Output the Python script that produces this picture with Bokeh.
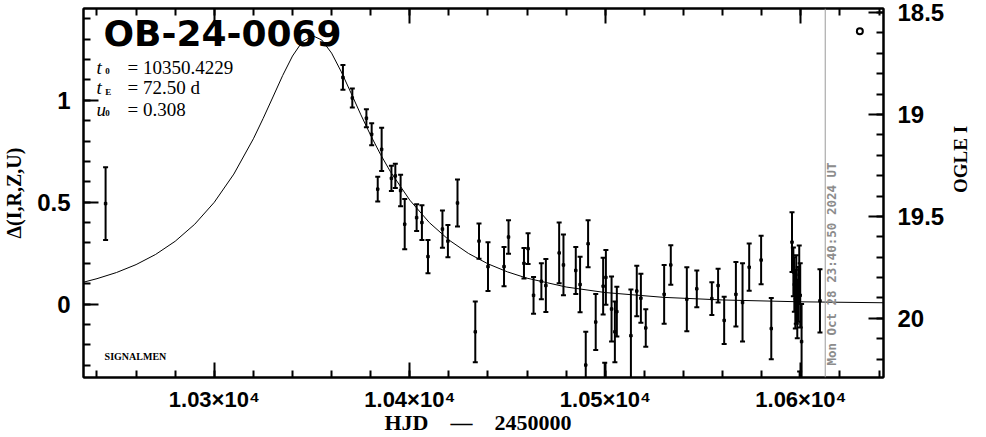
import math
from bokeh.plotting import figure
from bokeh.models import (Range1d, LinearAxis, SingleIntervalTicker, Span, Label,
                          ColumnDataSource, CustomJSTickFormatter)
from bokeh.embed import file_html
from bokeh.resources import INLINE

# ---- model (fit line) ----
model_hjd = [10233.1, 10240, 10250, 10260, 10270, 10280, 10290, 10300, 10310, 10320,
             10325, 10330, 10335, 10340, 10345, 10350.4, 10355, 10360, 10365, 10370,
             10375, 10380, 10385, 10390, 10400, 10410, 10420, 10430, 10440, 10450,
             10460, 10480, 10500, 10530, 10560, 10600, 10642.3]
model_delta = [0.1075, 0.1248, 0.155, 0.1938, 0.2437, 0.3083, 0.3918, 0.4995, 0.6378, 0.8111,
               0.9109, 1.0159, 1.1218, 1.2168, 1.2871, 1.3162, 1.2954, 1.2312, 1.1389, 1.0342,
               0.9283, 0.8275, 0.7347, 0.6510, 0.5100, 0.3998, 0.3146, 0.2486, 0.1975, 0.1579,
               0.1270, 0.0838, 0.0567, 0.0330, 0.0203, 0.0112, 0.0066]

# ---- photometry ----
hjd = [10244.4, 10365.8, 10370.6, 10377.8, 10380.5, 10385.6, 10383.6, 10390.6, 10392.6, 10395.3,
       10397.4, 10403.5, 10406.2, 10409.3, 10416.7, 10419.5, 10424.4, 10433.5, 10435.4, 10440.0,
       10448.2, 10450.5, 10458.4, 10460.5, 10463.3, 10467.3, 10469.6, 10476.4, 10478.6, 10484.9,
       10487.1, 10490.0, 10491.2, 10495.1, 10498.9, 10499.7, 10500.3, 10503.2, 10504.9, 10505.9,
       10513.1, 10516.1, 10518.2, 10520.7, 10530.1, 10533.5, 10541.7, 10546.8, 10554.5, 10557.7,
       10560.8, 10566.8, 10570.2, 10573.6, 10579.7, 10584.9, 10595.5, 10596.2, 10596.7, 10597.2,
       10597.7, 10598.2, 10598.7, 10599.2, 10599.7, 10600.4, 10599.4, 10609.8]
delta = [0.493, 1.112, 1.011, 0.912, 0.833, 0.759, 0.564, 0.617, 0.629, 0.557,
         0.392, 0.424, 0.400, 0.233, 0.368, 0.309, 0.496, -0.136, 0.309, 0.184,
         0.184, 0.329, 0.200, 0.272, 0.043, 0.112, 0.091, 0.251, 0.192, 0.165,
         0.096, -0.299, 0.296, -0.088, 0.088, -0.432, 0.131, -0.024, -0.136, -0.037,
         -0.155, 0.064, 0.029, -0.117, 0.048, 0.192, 0.024, 0.075, 0.027, 0.091,
         -0.080, 0.048, 0.008, 0.181, 0.216, -0.120, 0.304, 0.158, 0.096, 0.024,
         0.072, -0.024, 0.048, 0.144, 0.043, -0.184, -0.450, 0.016]
err = [0.178, 0.061, 0.046, 0.044, 0.054, 0.106, 0.061, 0.062, 0.059, 0.077,
       0.123, 0.066, 0.085, 0.082, 0.091, 0.079, 0.115, 0.149, 0.086, 0.120,
       0.096, 0.082, 0.075, 0.075, 0.090, 0.088, 0.130, 0.149, 0.149, 0.115,
       0.136, 0.163, 0.115, 0.137, 0.139, 0.144, 0.134, 0.160, 0.149, 0.122,
       0.227, 0.124, 0.120, 0.092, 0.144, 0.097, 0.157, 0.090, 0.080, 0.083,
       0.116, 0.158, 0.192, 0.116, 0.119, 0.150, 0.146, 0.120, 0.134, 0.144,
       0.168, 0.144, 0.134, 0.144, 0.158, 0.185, 0.120, 0.155]

extra_hjd = [10630.2]
extra_delta = [1.339]

now_hjd = 10612.49
now_text = "Mon Oct 28 23:40:50 2024 UT"
title_text = "OB-24-0069"
t0_text, tE_text, u0_text = "= 10350.4229", "= 72.50 d", "= 0.308"

x_lo, x_hi = 10233.1, 10642.3
y_lo, y_hi = -0.36, 1.45
mag0 = 19.93

src = ColumnDataSource(dict(
    t=hjd, d=delta,
    lo=[a - b for a, b in zip(delta, err)],
    hi=[a + b for a, b in zip(delta, err)],
))

p = figure(width=986, height=437,
           x_range=Range1d(x_lo, x_hi), y_range=Range1d(y_lo, y_hi),
           output_backend="svg", toolbar_location=None,
           min_border_left=83, min_border_right=103, min_border_top=8, min_border_bottom=57)
p.xgrid.visible = False
p.ygrid.visible = False
p.outline_line_color = "black"
p.outline_line_width = 2
p.background_fill_color = "white"
p.border_fill_color = "white"

p.extra_y_ranges = {"mag": Range1d(start=mag0 - y_lo, end=mag0 - y_hi)}

num_fmt = CustomJSTickFormatter(code="return String(Number(tick.toFixed(2)));")
x_fmt = CustomJSTickFormatter(code="return (tick/1e4).toFixed(2) + '\u00d710\u2074';")
blank_fmt = CustomJSTickFormatter(code="return '';")


def style(ax, ticker):
    ax.ticker = ticker
    ax.axis_line_width = 2
    ax.major_tick_line_width = 2
    ax.minor_tick_line_width = 2
    ax.major_tick_in = 15
    ax.major_tick_out = 0
    ax.minor_tick_in = 7
    ax.minor_tick_out = 0
    ax.major_label_text_font = "Liberation Sans"
    ax.major_label_text_font_style = "bold"
    ax.major_label_text_font_size = "24px"
    ax.major_label_text_color = "black"
    ax.axis_label_text_font = "Liberation Serif"
    ax.axis_label_text_font_style = "bold"
    ax.axis_label_text_font_size = "20px"
    ax.axis_label_text_color = "black"


xa = p.xaxis[0]
style(xa, SingleIntervalTicker(interval=100, num_minor_ticks=5))
xa.formatter = x_fmt
xa.major_label_text_font_size = "22px"
xa.major_label_standoff = 9
xa.axis_label = "HJD\u00a0\u00a0\u00a0\u00a0\u2014\u00a0\u00a0\u00a0\u00a02450000\u00a0\u00a0"
xa.axis_label_text_font_size = "22px"
xa.axis_label_standoff = -5

ya = p.yaxis[0]
style(ya, SingleIntervalTicker(interval=0.5, num_minor_ticks=5))
ya.formatter = num_fmt
ya.major_label_standoff = 13
ya.axis_label = "\u0394(I,R,Z,U)"
ya.axis_label_standoff = 9

top = LinearAxis()
style(top, SingleIntervalTicker(interval=100, num_minor_ticks=5))
top.formatter = blank_fmt
top.major_label_text_font_size = "1px"
top.major_label_standoff = 0
p.add_layout(top, "above")

ra = LinearAxis(y_range_name="mag")
style(ra, SingleIntervalTicker(interval=0.5, num_minor_ticks=5))
ra.formatter = num_fmt
ra.major_label_standoff = 14
ra.axis_label = "OGLE I"
ra.axis_label_text_font_size = "19px"
ra.axis_label_standoff = 13
try:
    ra.axis_label_orientation = math.pi / 2
except Exception:
    pass
p.add_layout(ra, "right")

# model line
p.line(model_hjd, model_delta, line_color="black", line_width=1)

# error bars
p.segment(x0="t", y0="lo", x1="t", y1="hi", source=src, line_color="black", line_width=2)
p.scatter(x="t", y="hi", source=src, marker="dash", size=5, line_color="black", line_width=2)
p.scatter(x="t", y="lo", source=src, marker="dash", size=5, line_color="black", line_width=2)
p.scatter(x="t", y="d", source=src, marker="square", size=2.5, line_color="black", fill_color="black")

p.scatter(extra_hjd, extra_delta, marker="circle", size=6, line_color="black",
          line_width=2, fill_color=None)

# current-time marker
p.add_layout(Span(location=now_hjd, dimension="height", line_color="#9a9a9a", line_width=1))
p.add_layout(Label(x=now_hjd, y=-0.3017, x_offset=-1, text=now_text, angle=90, angle_units="deg",
                   text_font="DejaVu Sans Mono", text_font_style="bold", text_font_size="12.5px",
                   text_color="#8c8c8c", text_baseline="top", text_align="left"))

serif = "Liberation Serif"

# annotations (anchored at the vertical middle of each text)
p.add_layout(Label(x=10243.3, y=1.3259, text=title_text, text_font="DejaVu Sans",
                   text_font_style="bold", text_font_size="36px", text_color="black",
                   text_baseline="middle", text_align="left"))

rows = [("t", "0", t0_text, 1.1605, 1.1435),
        ("t", "E", tE_text, 1.0607, 1.0389),
        ("u", "0", u0_text, 0.9561, 0.9391)]
for sym, sub, txt, yb, ys in rows:
    p.add_layout(Label(x=10239.8, y=yb, text=sym, text_font=serif, text_font_style="italic",
                       text_font_size="19px", text_color="black", text_baseline="middle"))
    p.add_layout(Label(x=10244.2, y=ys, text=sub, text_font=serif, text_font_style="bold",
                       text_font_size="9px", text_color="black", text_baseline="middle"))
    p.add_layout(Label(x=10255.6, y=yb, text=txt, text_font=serif,
                       text_font_size="19px", text_color="black", text_baseline="middle"))

p.add_layout(Label(x=10243.9, y=-0.2579, text="SIGNALMEN", text_font=serif,
                   text_font_style="bold", text_font_size="10px", text_color="black",
                   text_baseline="middle"))

open("out.html", "w").write(file_html(p, INLINE))
